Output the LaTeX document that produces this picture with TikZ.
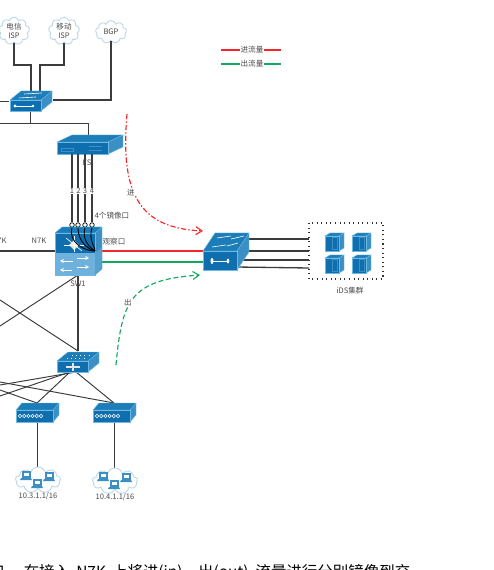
\documentclass[tikz,border=0pt]{standalone}
\usepackage{fontspec}
\setmainfont{Noto Sans CJK SC}
\usetikzlibrary{arrows.meta, calc, shapes.symbols}

\definecolor{frontblue}{HTML}{0F6FAE}
\definecolor{topblue}{HTML}{1C7DB8}
\definecolor{sideblue}{HTML}{3B8FC4}
\definecolor{lightblue}{HTML}{6FB1DD}
\definecolor{edgeblue}{HTML}{6DB9E2}
\definecolor{cloudline}{HTML}{BCD7E8}
\definecolor{linkgray}{HTML}{3C3C3C}
\definecolor{textgray}{HTML}{4A4A4A}
\definecolor{inred}{HTML}{F5252B}
\definecolor{outgreen}{HTML}{12A860}

\tikzset{
  link/.style={draw=linkgray, line width=0.75pt},
  thinlink/.style={draw=linkgray, line width=0.55pt},
  lbl/.style={text=textgray, font=\fontsize{4.3}{5}\selectfont, inner sep=0.3pt, align=center},
  cloudbox/.style={cloud, cloud puffs=9, cloud ignores aspect, draw=cloudline, line width=0.5pt,
    fill=white, inner sep=0pt, minimum width=0.62cm, minimum height=0.46cm},
  port/.style={circle, draw=black, fill=white, line width=0.4pt, inner sep=0pt, minimum size=0.09cm},
  iconline/.style={white, line width=0.35pt}
}

% box with front face at x,y, size w,h and depth dx,dy
\newcommand{\devbox}[6]{
  \begin{scope}[shift={(#1,#2)}]
    \fill[sideblue] (#3,0) -- ++(#5,-#6) -- ++(0,#4) -- ++(-#5,#6) -- cycle;
    \fill[topblue] (0,0) -- ++(#5,-#6) -- ++(#3,0) -- ++(-#5,#6) -- cycle;
    \fill[frontblue] (0,0) rectangle ++(#3,#4);
    \draw[edgeblue, line width=0.25pt] (0,0) -- ++(#5,-#6) -- ++(#3,0) -- ++(-#5,#6) -- cycle;
    \draw[edgeblue, line width=0.25pt] (#3,#4) -- ++(#5,-#6) -- ++(0,-#4);
    \draw[edgeblue, line width=0.25pt] (0,0) rectangle ++(#3,#4);
  \end{scope}
}
\newcommand{\servericon}[2]{
  \devbox{#1}{#2}{14}{15}{5}{3}
  \draw[sideblue, line width=0.3pt] (#1+7,#2+1) rectangle ++(5,12);
}
\newcommand{\pcicon}[2]{
  \fill[sideblue] (#1-5,#2-5) rectangle ++(9,7);
  \fill[white] (#1-3,#2-3) rectangle ++(5,3);
  \fill[sideblue] (#1-6,#2+2) -- ++(10,0) -- ++(1,2) -- ++(-12,0) -- cycle;
}
\newcommand{\portrow}[2]{
  \draw[white, line width=0.3pt] (#1,#2) circle (1.7) ++(4.2,0) circle (1.7) ++(4.2,0) circle (1.7)
    ++(4.2,0) circle (1.7) ++(4.2,0) circle (1.7) ++(4.2,0) circle (1.7);
}

\begin{document}
\begin{tikzpicture}[x=0.02cm, y=-0.02cm]
  \useasboundingbox (0,0) rectangle (493,570);

  % Clouds on top
  \node[cloudbox, lbl] (isp1) at (14,31) {电信\\ISP};
  \node[cloudbox, lbl] (isp2) at (64,31) {移动\\ISP};
  \node[cloudbox, lbl] (bgp) at (111,32) {BGP};

  % Coordinates for ports
  \coordinate (R_A) at (31,91);
  \coordinate (R_B) at (40,91);
  \coordinate (R_R) at (53,100);
  \coordinate (R_L) at (9,101);
  \coordinate (R_D) at (30,111);
  \coordinate (FS_T) at (88,135);
  \coordinate (W_A) at (0,101);
  \coordinate (W_B) at (0,123);
  \coordinate (W_C) at (0,251);
  \coordinate (W_D) at (0,326);
  \coordinate (W_E) at (0,300);
  \coordinate (W_F) at (0,382);
  \coordinate (W_G) at (0,390);
  \coordinate (W_H) at (0,385);
  \coordinate (W_I) at (0,396);
  \coordinate (SW_L) at (55,251);
  \coordinate (SW_B) at (78,275);
  \coordinate (SW_R) at (95,251);
  \coordinate (SW_G) at (95,262);
  \coordinate (CORE_T) at (78,351);
  \coordinate (CORE_A) at (70,372);
  \coordinate (CORE_B) at (76,372);
  \coordinate (ACC1_T) at (37,403);
  \coordinate (ACC2_T) at (114,403);
  \coordinate (ACC1_B) at (37,422);
  \coordinate (ACC2_B) at (114,422);
  \coordinate (NET1_T) at (37,468);
  \coordinate (NET2_T) at (114,469);
  \coordinate (IDS_R) at (203,251);
  \coordinate (IDS_G) at (203,262);
  \coordinate (IDS_A) at (240,239);
  \coordinate (IDS_B) at (240,251);
  \coordinate (IDS_C) at (238,260);
  \coordinate (IDS_D) at (236,267);
  \coordinate (CL_A) at (309,239);
  \coordinate (CL_B) at (309,251);
  \coordinate (CL_C) at (309,260);
  \coordinate (CL_D) at (309,268);

  % Draw upper links
  \draw[link] (isp1.south) |- ($(R_A)+(0,-26)$) -- (R_A);
  \draw[link] (isp2.south) |- ($(R_B)+(0,-26)$) -- (R_B);
  \draw[link] (bgp.south) |- (R_R);
  \draw[thinlink] (W_A) -- (R_L);
  \draw[thinlink] (R_D) -- ($(R_D)+(0,12)$);
  \draw[thinlink] (W_B) -| (FS_T);

  % Draw mesh
  \draw[link] (W_C) -- (SW_L);
  \draw[link] (SW_B) -- (CORE_T);
  \draw[thinlink] (SW_B) -- (W_D);
  \draw[thinlink] (W_E) -- (CORE_T);
  \draw[thinlink] (W_F) -- (ACC2_T);
  \draw[thinlink] (W_G) -- (ACC1_T);
  \draw[thinlink] (CORE_B) -- (W_H);
  \draw[thinlink] (CORE_A) -- (W_I);
  \draw[thinlink] (CORE_A) -- (ACC1_T);
  \draw[thinlink] (CORE_B) -- (ACC2_T);
  \draw[thinlink] (ACC1_B) -- (NET1_T);
  \draw[thinlink] (ACC2_B) -- (NET2_T);

  % Traffic lines
  \draw[inred, line width=0.85pt] (SW_R) -- (IDS_R);
  \draw[outgreen, line width=0.85pt] (SW_G) -- (IDS_G);

  % Cluster links
  \draw[link] (IDS_A) -- (CL_A);
  \draw[link] (IDS_B) -- (CL_B);
  \draw[link] (IDS_C) -- (CL_C);
  \draw[link] (IDS_D) -- (CL_D);

  % Top router
  \devbox{10}{100}{31}{11}{11}{9}
  \draw[iconline] (24,94) -- (42,93);
  \draw[iconline] (19,98) -- (36,97);
  \draw[iconline] (15,106) -- (33,106);
  \fill[white] (15,106) circle (1.6);
  \fill[white] (33,106) circle (1.3);

  % FS box
  \devbox{57}{142}{51}{12}{15}{7}
  \draw[sideblue, line width=0.4pt] (61,148) rectangle ++(12,3);
  \draw[sideblue, line width=0.4pt] (89,146) -- ++(13,0);
  \draw[sideblue, line width=0.4pt] (89,150) -- ++(13,0);

  % Mirror lines
  \coordinate (FS_1) at (72,154);
  \coordinate (FS_2) at (78,154);
  \coordinate (FS_3) at (85,154);
  \coordinate (FS_4) at (92,154);
  \node[port] (m1) at (72,225) {};
  \node[port] (m2) at (78,225) {};
  \node[port] (m3) at (85,225) {};
  \node[port] (m4) at (92,225) {};
  \draw[link] (FS_1) -- (m1);
  \draw[link] (FS_2) -- (m2);
  \draw[link] (FS_3) -- (m3);
  \draw[link] (FS_4) -- (m4);
  \node[lbl, fill=white] (n1) at (72,191) {1};
  \node[lbl, fill=white] (n2) at (78.5,191) {2};
  \node[lbl, fill=white] (n3) at (85,191) {3};
  \node[lbl, fill=white] (n4) at (92,191) {4};

  % SW1
  \devbox{55}{233}{40}{42}{7}{6}
  \fill[lightblue] (55,253) rectangle (95,275);
  \fill[sideblue!85!white] (95,253) -- (102,247) -- (102,268) -- (95,275) -- cycle;
  \fill[white!80!gray] (74,240) -- (79,245) -- (74,250) -- (69,245) -- cycle;
  \draw[iconline] (64,245) -- (84,245);
  \draw[iconline] (74,236) -- (74,252);
  \draw[iconline] (66,238) -- (82,251);
  \draw[iconline, -{Stealth[length=2.2,width=2.2]}] (77,258) -- (89,258);
  \draw[iconline, -{Stealth[length=2.2,width=2.2]}] (72,270) -- (60,270);
  \draw[iconline, -{Stealth[length=2.2,width=2.2]}] (77,267) -- (89,267);
  \draw[iconline, -{Stealth[length=2.2,width=2.2]}] (73,261) -- (60,261);

  % Mirror curves
  \draw[black, line width=0.5pt] (m1.south) .. controls (68,243) and (85,251) .. (SW_R);
  \draw[black, line width=0.5pt] (m2.south) .. controls (78,243) and (90,250) .. (SW_R);
  \draw[black, line width=0.5pt] (m3.south) .. controls (81,241) and (92,249) .. (SW_R);
  \draw[black, line width=0.5pt] (m4.south) .. controls (88,241) and (96,248) .. (SW_R);

  % Core switch
  \devbox{57}{361}{31}{11}{11}{9}
  \fill[white!80!gray] (72,363) rectangle (74,371);
  \fill[white!80!gray] (66,366) rectangle (80,367.5);
  \draw[iconline, dotted] (72,355) -- (92,355);
  \draw[iconline, dotted] (67,358) -- (87,358);

  % Access switches
  \devbox{16}{410}{37}{12}{6}{7}
  \devbox{93}{410}{37}{12}{6}{7}
  \portrow{20}{416}
  \portrow{97}{416}

  % IDS switch
  \devbox{203}{251}{34}{19}{12}{18}
  \draw[iconline] (212,261) -- (228,261);
  \fill[white] (212,261) ellipse (1.5 and 3);
  \fill[white] (228,261) ellipse (1.3 and 2.4);
  \draw[iconline] (217,238) -- (231,236);
  \draw[iconline] (231,239) -- (244,236);
  \draw[iconline] (212,247) -- (226,245);
  \draw[iconline] (227,246) -- (238,243);

  % IDS cluster
  \draw[black!80, line width=0.6pt, dotted] (309,223) rectangle (383,279);
  \servericon{325}{236}
  \servericon{352}{236}
  \servericon{325}{258}
  \servericon{352}{258}

  % Lower clouds
  \node[cloudbox, minimum width=0.9cm, minimum height=0.52cm] (net1) at (38,480) {};
  \node[cloudbox, minimum width=0.9cm, minimum height=0.52cm] (net2) at (115,481) {};
  \pcicon{27}{476}
  \pcicon{38}{484}
  \pcicon{50}{477}
  \pcicon{104}{477}
  \pcicon{115}{485}
  \pcicon{127}{478}

  % Traffic curves
  \coordinate (IN_S) at (127,114);
  \coordinate (IN_E) at (203,231);
  \coordinate (OUT_S) at (116,365);
  \coordinate (OUT_E) at (200,275);
  \draw[inred, line width=0.65pt, dash pattern=on 3pt off 1.2pt on 0.8pt off 1.2pt,
    -{Straight Barb[length=3.5pt,width=4.5pt]}] (IN_S) .. controls (120,195) and (140,228) .. (IN_E);
  \draw[outgreen, line width=0.65pt, dash pattern=on 2.8pt off 1.6pt,
    -{Straight Barb[length=3.5pt,width=4.5pt]}] (OUT_S) .. controls (122,300) and (130,280) .. (OUT_E);

  % Legend
  \coordinate (L1_A) at (221,50);
  \coordinate (L1_B) at (281,50);
  \coordinate (L2_A) at (221,64);
  \coordinate (L2_B) at (281,64);
  \draw[inred, line width=0.7pt] (L1_A) -- (L1_B);
  \draw[outgreen, line width=0.7pt] (L2_A) -- (L2_B);
  \node[lbl, fill=white] (leg1) at (252,50) {进流量};
  \node[lbl, fill=white] (leg2) at (252,64) {出流量};

  % Labels
  \node[lbl] (fs) at (87,163) {FS};
  \node[lbl] (mirror) at (112,216) {4个镜像口};
  \node[lbl] (watch) at (114,242) {观察口};
  \node[lbl] (n7k) at (39,241) {N7K};
  \node[lbl] (n7kb) at (2,241) {7K};
  \node[lbl] (sw1) at (78,284) {SW1};
  \node[lbl, fill=white] (inlbl) at (131,193) {进};
  \node[lbl, fill=white] (outlbl) at (128,303) {出};
  \node[lbl] (ids) at (350,291) {iDS集群};
  \node[lbl] (addr1) at (38,496) {10.3.1.1/16};
  \node[lbl] (addr2) at (115,497) {10.4.1.1/16};

  % Cut off line below
  \node[anchor=north west, inner sep=0pt, font=\fontsize{8.8}{10}\selectfont] (cut) at (-11,564)
    {口，\hspace{2pt}在接入\hspace{1.5pt} N7K \hspace{1.5pt}上将进(in)、出(out)\hspace{4pt}流量进行分别镜像到交};
\end{tikzpicture}
\end{document}
